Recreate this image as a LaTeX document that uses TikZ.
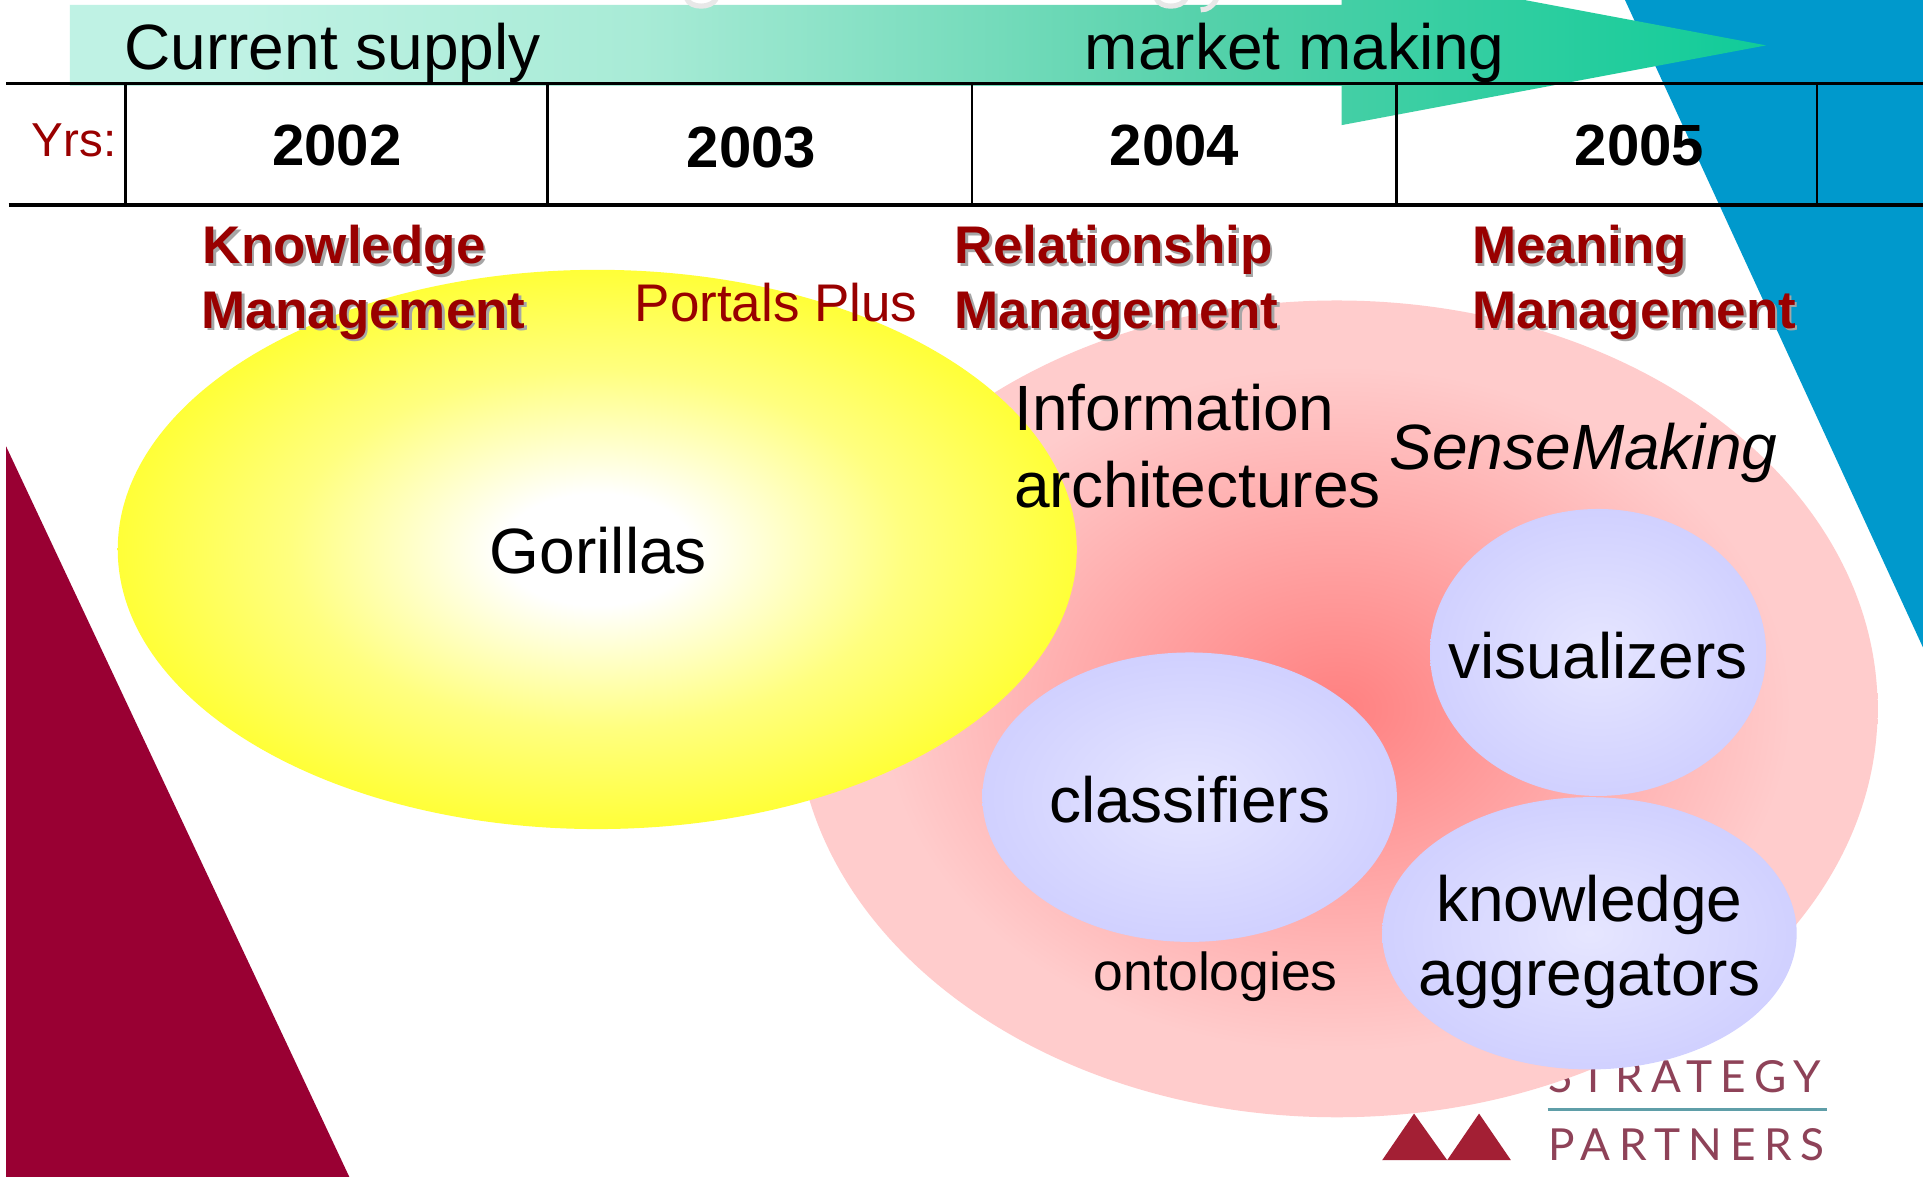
\documentclass[tikz,border=0pt]{standalone}
\usepackage{fontspec}
\setmainfont{Liberation Sans}
\newfontfamily\logofont[LetterSpace=19]{Lato}
\usetikzlibrary{shapes.geometric}
\definecolor{arrowL}{HTML}{BFF2E4}
\definecolor{arrowA}{HTML}{A8EBD6}
\definecolor{arrowB}{HTML}{50D0A8}
\definecolor{arrowR}{HTML}{10CC99}
\definecolor{bluewedge}{HTML}{0099CC}
\definecolor{redwedge}{HTML}{990033}
\definecolor{darkred}{HTML}{990000}
\definecolor{pinkC}{HTML}{FF8080}
\definecolor{pinkO}{HTML}{FFCCCC}
\definecolor{lavC}{HTML}{E6E6FF}
\definecolor{lavO}{HTML}{CCCCFF}
\definecolor{logored}{HTML}{A31F34}
\definecolor{logotext}{HTML}{8E4258}
\definecolor{logoteal}{HTML}{5F9EA8}
\definecolor{titlegray}{HTML}{E8E8E8}
\pgfdeclareradialshading{yellowgrad}{\pgfpoint{0bp}{0bp}}{color(0bp)=(white);color(5bp)=(white);color(16bp)=(yellow!50!white);color(32bp)=(yellow);color(50bp)=(yellow)}
\pgfdeclareradialshading{pinkgrad}{\pgfpoint{0bp}{0bp}}{color(0bp)=(pinkC);color(21bp)=(pinkO);color(50bp)=(pinkO)}
\pgfdeclareradialshading{lavgrad}{\pgfpoint{0bp}{0bp}}{color(0bp)=(lavC);color(30bp)=(lavO);color(50bp)=(lavO)}
\pgfdeclarehorizontalshading{arrowgrad}{100bp}{color(0bp)=(arrowL);color(30bp)=(arrowL);color(41.8bp)=(arrowA);color(59.5bp)=(arrowB);color(75bp)=(arrowR);color(100bp)=(arrowR)}
\tikzset{
 lbl/.style={anchor=base west,inner sep=0pt,outer sep=0pt},
 big/.style={lbl,font=\fontsize{26.1}{26}\selectfont},
 bigc/.style={big,anchor=base},
 yr/.style={lbl,font=\fontsize{23.7}{24}\selectfont\bfseries},
 redsmall/.style={lbl,text=darkred,font=\fontsize{21.6}{22}\selectfont},
 heading/.style={lbl,text=darkred,font=\fontsize{21.6}{22}\selectfont\bfseries},
 shadow/.style={lbl,text=black!35,font=\fontsize{21.6}{22}\selectfont\bfseries},
 rulethick/.style={line width=1.5pt,black},
 rulethin/.style={line width=1pt,black},
 descender/.style={titlegray,line width=2.1pt},
 logotxt/.style={anchor=base west,inner sep=0pt,text=logotext,font=\logofont\fontsize{18}{18}\selectfont}
}
\newcommand{\headtext}[4]{%
 \node[shadow] (#1s) at (#2+2,#3+2) {#4};
 \node[heading] (#1) at (#2,#3) {#4};}
\begin{document}
\begin{tikzpicture}[x=0.5pt,y=-0.5pt]
\useasboundingbox (0,0) rectangle (1568,959.7);
\fill[white] (0,0) rectangle (1568,959.7);
% wedges
\fill[redwedge] (5,364) -- (285,960) -- (5,960) -- cycle;
\fill[bluewedge] (1325,0) -- (1568,0) -- (1568,528) -- cycle;
% arrow (clipped at the top of the picture)
\begin{scope}
\clip (0,0) rectangle (1568,959.7);
\shade[shading=arrowgrad] (57,4) -- (1094,4) -- (1094,-28) -- (1440,37) -- (1094,102) -- (1094,70) -- (57,70) -- cycle;
\draw[descender] (560,-1) .. controls (563,7) and (580,7) .. (584,-1);
\draw[descender] (943,-1) .. controls (946,7) and (963,7) .. (967,-1);
\draw[descender] (979,8) .. controls (985,8) and (989,5) .. (992,-1);
\end{scope}
% logo
\fill[logored] (1127,946) -- (1153,908) -- (1180,946) -- cycle;
\fill[logored] (1180,946) -- (1206,908) -- (1232,946) -- cycle;
\node[logotxt] (strategy) at (1262,891) {STRATEGY};
\node[logotxt] (partners) at (1262,946) {PARTNERS};
\draw[logoteal,line width=1.2pt] (1262,905) -- (1490,905);
% ellipses
\path[shading=pinkgrad] (1090,578) ellipse [x radius=441,y radius=333];
\path[shading=yellowgrad] (487,448) ellipse [x radius=391,y radius=228];
\path[shading=lavgrad] (970,650) ellipse [x radius=169,y radius=118];
\path[shading=lavgrad] (1303,532) ellipse [x radius=137,y radius=117];
\path[shading=lavgrad] (1296,761) ellipse [x radius=169,y radius=111];
% table rules
\draw[rulethick] (5,68) -- (1568,68);
\draw[rulethick] (7,167) -- (1568,167);
\foreach \x in {102.5,446.5,792.5,1138.5,1481.5} \draw[rulethin] (\x,68) -- (\x,167);
% texts
\node[big] (supply) at (101.5,57) {Current supply};
\node[big] (market) at (884.5,57) {market making};
\node[redsmall,font=\fontsize{19.4}{20}\selectfont] (yrs) at (26,128) {Yrs:};
\node[yr] (y2002) at (222,135) {2002};
\node[yr] (y2003) at (560,136.5) {2003};
\node[yr] (y2004) at (905,135) {2004};
\node[yr] (y2005) at (1284,135) {2005};
\headtext{km1}{165.5}{215}{Knowledge}
\headtext{km2}{164.5}{267.5}{Management}
\headtext{rm1}{778.5}{215}{Relationship}
\headtext{rm2}{778.5}{267.5}{Management}
\headtext{mm1}{1200.5}{215}{Meaning}
\headtext{mm2}{1200.5}{267.5}{Management}
\node[redsmall] (portals) at (517.5,262.5) {Portals Plus};
\node[big] (info) at (827,351) {Information};
\node[big] (arch) at (827,414) {architectures};
\node[big,font=\fontsize{26.1}{26}\selectfont\itshape] (sense) at (1133,383) {SenseMaking};
\node[big] (gorillas) at (399.5,467.5) {Gorillas};
\node[bigc] (vis) at (1303,553) {visualizers};
\node[bigc] (cls) at (970,671) {classifiers};
\node[bigc] (know) at (1296,751) {knowledge};
\node[bigc] (aggr) at (1296,812) {aggregators};
\node[lbl,font=\fontsize{21.8}{22}\selectfont] (onto) at (892,808) {ontologies};
\end{tikzpicture}
\end{document}
